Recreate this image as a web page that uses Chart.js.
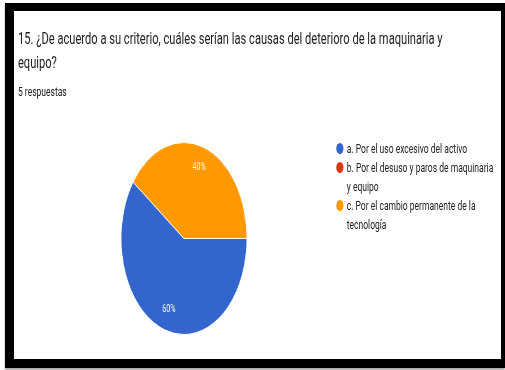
<!DOCTYPE html>
<html>
<head>
<meta charset="utf-8">
<script src="https://cdn.jsdelivr.net/npm/chart.js@4"></script>
<style>
  html, body { margin: 0; padding: 0; background: #fff; }
  body { width: 505px; height: 370px; position: relative; overflow: hidden; font-family: Roboto, Arial, sans-serif; }
  .frame {
    position: absolute; left: 5px; top: 3px; width: 487px; height: 348px;
    border-style: solid; border-color: #000; border-width: 8px 4px 9px 9px;
    background: #fff; box-shadow: 0 2px 2px rgba(0, 0, 0, 0.35);
    overflow: hidden;
  }
  /* the card is laid out at full width and squeezed horizontally */
  .card { position: absolute; left: 0; top: 0; width: 744px; height: 348px; transform: scaleX(0.655); transform-origin: 0 0; }
  .title { position: absolute; left: 6px; top: 15px; font-size: 17px; line-height: 24px; color: #202124; white-space: nowrap; }
  .count { position: absolute; left: 6px; top: 73px; font-size: 13px; line-height: 16px; color: #202124; }
  .pie-box { position: absolute; left: 163px; top: 131px; width: 193px; height: 193px; }
  .legend { position: absolute; left: 492px; top: 128px; width: 260px; margin: 0; padding: 0; list-style: none; }
  .legend li { position: relative; padding-left: 16px; font-family: Roboto, Arial, sans-serif; font-size: 13px; line-height: 19px; color: #222; white-space: nowrap; }
  .legend li span.dot { position: absolute; left: 0; top: 4px; width: 11px; height: 11px; border-radius: 50%; }
</style>
</head>
<body>
<div class="frame">
  <div class="card">
    <div class="title" id="title"></div>
    <div class="count" id="count"></div>
    <div class="pie-box"><canvas id="pie"></canvas></div>
    <ul class="legend" id="legend"></ul>
  </div>
</div>
<script>
const titleLines = ['15. ¿De acuerdo a su criterio, cuáles serían las causas del deterioro de la maquinaria y', 'equipo?'];
// multi-line labels are given as arrays of lines
const answers = [
  'a. Por el uso excesivo del activo',
  ['b. Por el desuso y paros de maquinaria', 'y equipo'],
  ['c. Por el cambio permanente de la', 'tecnología']
];
const responses = [3, 0, 2];
const colors = ['#3366cc', '#dc3912', '#ff9900'];

const total = responses.reduce((a, b) => a + b, 0);
document.getElementById('title').innerHTML = titleLines.join('<br>');
document.getElementById('count').textContent = total + ' respuestas';

// white percentage labels inside each slice
const sliceLabels = {
  id: 'sliceLabels',
  afterDatasetsDraw(chart) {
    const ctx = chart.ctx;
    const meta = chart.getDatasetMeta(0);
    ctx.save();
    ctx.fillStyle = '#fff';
    ctx.font = '11px Roboto, Arial, sans-serif';
    ctx.textAlign = 'center';
    ctx.textBaseline = 'middle';
    meta.data.forEach((arc, i) => {
      const v = responses[i];
      if (!v) return;
      const p = arc.getProps(['x', 'y', 'startAngle', 'endAngle', 'outerRadius'], true);
      const mid = (p.startAngle + p.endAngle) / 2;
      const r = p.outerRadius * 0.775;
      ctx.fillText(Math.round(v / total * 100) + '%', p.x + Math.cos(mid) * r, p.y + Math.sin(mid) * r);
    });
    ctx.restore();
  }
};

const chart = new Chart(document.getElementById('pie'), {
  type: 'pie',
  data: {
    labels: answers,
    datasets: [{
      data: responses,
      backgroundColor: colors,
      borderColor: '#fff',
      borderWidth: 1
    }]
  },
  options: {
    responsive: true,
    maintainAspectRatio: false,
    animation: false,
    rotation: 90,
    plugins: {
      legend: { display: false },
      tooltip: { enabled: false }
    }
  },
  plugins: [sliceLabels]
});

// html legend built from the chart labels
const legend = document.getElementById('legend');
chart.data.labels.forEach((label, i) => {
  const li = document.createElement('li');
  const dot = document.createElement('span');
  dot.className = 'dot';
  dot.style.background = colors[i];
  li.appendChild(dot);
  [].concat(label).forEach((line, j) => {
    if (j) li.appendChild(document.createElement('br'));
    li.appendChild(document.createTextNode(line));
  });
  legend.appendChild(li);
});
</script>
</body>
</html>
